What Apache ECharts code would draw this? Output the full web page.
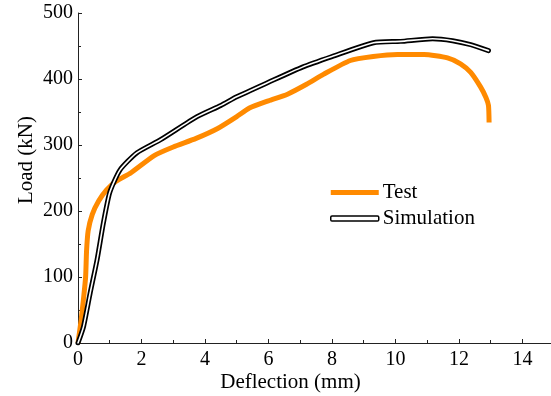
<!DOCTYPE html>
<html>
<head>
<meta charset="utf-8">
<script src="https://cdn.jsdelivr.net/npm/echarts@6/dist/echarts.min.js"></script>
<style>
  html, body { margin: 0; padding: 0; background: #fff; }
  #chart { width: 551px; height: 396px; }
</style>
</head>
<body>
<div id="chart"></div>
<script>
// Test curve (deflection mm, load kN)
const testDefl = [0, 0.1, 0.18, 0.24, 0.27, 0.32, 0.45, 0.65, 0.9, 1.2, 1.67, 2.4, 3.0, 3.72, 4.4, 5.0, 5.4, 6.0, 6.6, 7.2, 7.73, 8.58, 9.3, 10.06, 10.9, 11.64, 12.05, 12.37, 12.68, 12.85, 12.93, 12.95]
const testLoad = [0, 35, 70, 100, 140, 170, 195, 215, 232, 245, 258, 284, 297, 310, 325, 343, 356, 367, 377, 392, 407, 428, 434, 437, 437, 432, 423, 410, 388, 372, 360, 334]
// Simulation curve
const simDefl = [0, 0.17, 0.38, 0.6, 0.8, 1.0, 1.32, 1.85, 2.6, 3.75, 4.5, 5.0, 6.0, 7.07, 8.0, 9.31, 10.16, 11.17, 11.8, 12.37, 12.93]
const simLoad = [0, 24, 75, 126, 182, 228, 262, 288, 308, 343, 360, 373, 395, 418, 434, 455, 457, 461, 458, 452, 443]

const pairs = (xs, ys) => xs.map((x, i) => [x, ys[i]])

const font = 'Liberation Serif'
const chart = echarts.init(document.getElementById('chart'))

chart.setOption({
  animation: false,
  textStyle: { fontFamily: font },
  grid: { left: 78, right: 0, top: 13, bottom: 53, outerBoundsMode: 'none' },
  legend: {
    orient: 'vertical',
    left: 330,
    top: 182,
    padding: 0,
    itemWidth: 48,
    itemHeight: 5,
    itemGap: 5,
    textStyle: { fontFamily: font, fontSize: 21, color: '#000', padding: [0, 0, 0, -1] },
    data: [
      { name: 'Test', icon: 'rect', itemStyle: { color: '#ff8a00' } },
      { name: 'Simulation', icon: 'roundRect', itemStyle: { color: '#fff', borderColor: '#000', borderWidth: 1.5 } }
    ]
  },
  xAxis: {
    type: 'value',
    min: 0,
    max: 14.9,
    interval: 2,
    name: 'Deflection (mm)',
    nameLocation: 'middle',
    nameGap: 29,
    nameMoveOverlap: false,
    nameTextStyle: { fontFamily: font, fontSize: 21, color: '#000', padding: [0, 48, 0, 0] },
    axisLine: { lineStyle: { color: '#222', width: 1 } },
    axisTick: { inside: true, length: 4, lineStyle: { color: '#222' } },
    minorTick: { show: true, splitNumber: 2, length: 3, lineStyle: { color: '#222' } },
    splitLine: { show: false },
    axisLabel: {
      fontFamily: font, fontSize: 20, color: '#000', margin: 7,
      formatter: v => (v % 2 === 0 ? String(v) : '')
    }
  },
  yAxis: {
    type: 'value',
    min: 0,
    max: 500,
    interval: 100,
    name: 'Load (kN)',
    nameLocation: 'middle',
    nameGap: 41,
    nameMoveOverlap: false,
    nameTextStyle: { fontFamily: font, fontSize: 21, color: '#000', padding: [0, 0, 0, 36] },
    axisLine: { show: true, lineStyle: { color: '#222', width: 1 } },
    axisTick: { show: true, inside: true, length: 4, lineStyle: { color: '#222' } },
    minorTick: { show: true, splitNumber: 2, length: 3, lineStyle: { color: '#222' } },
    splitLine: { show: false },
    axisLabel: { fontFamily: font, fontSize: 20, color: '#000', margin: 5 }
  },
  series: [
    {
      name: 'Test',
      type: 'line',
      data: pairs(testDefl, testLoad),
      smooth: 0.2,
      showSymbol: false,
      lineStyle: { color: '#ff8a00', width: 5 },
      itemStyle: { color: '#ff8a00' }
    },
    {
      name: 'Simulation',
      type: 'line',
      data: pairs(simDefl, simLoad),
      smooth: 0.2,
      showSymbol: false,
      lineStyle: { color: '#000', width: 5, cap: 'round' },
      itemStyle: { color: '#000' }
    },
    {
      name: 'SimulationCore',
      type: 'line',
      data: pairs(simDefl, simLoad),
      smooth: 0.2,
      showSymbol: false,
      lineStyle: { color: '#fff', width: 1.6, cap: 'round' },
      itemStyle: { color: '#fff' }
    }
  ]
})
</script>
</body>
</html>
